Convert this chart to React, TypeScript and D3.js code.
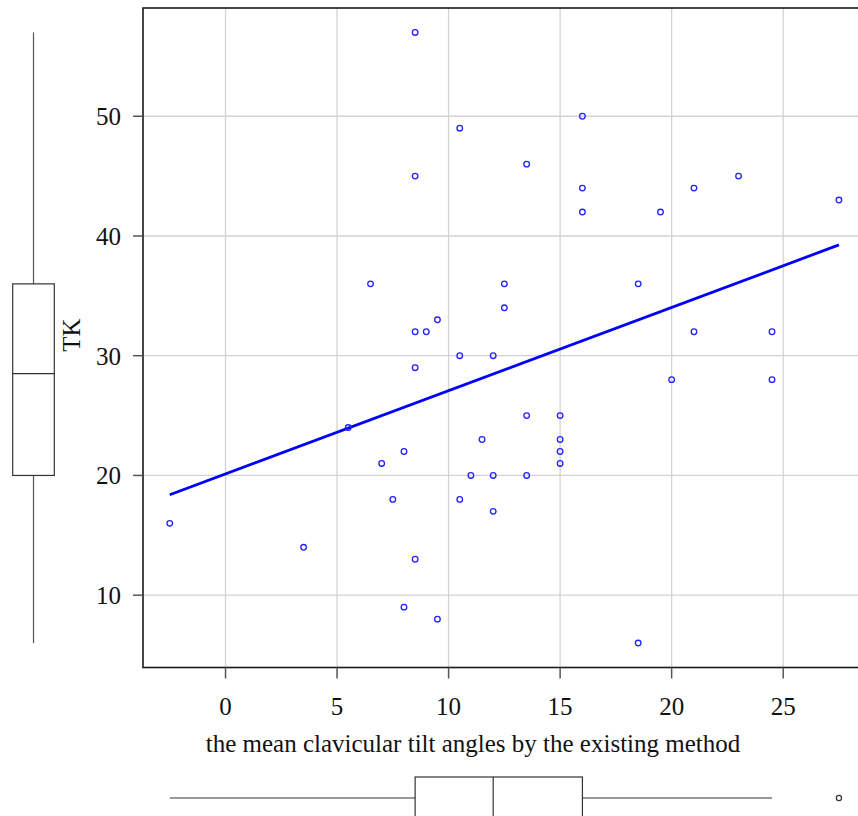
import React from "react";
import * as d3 from "d3";

const xValues = [8.5, 16, 10.5, 13.5, 8.5, 23, 16, 21, 27.5, 16, 19.5, 6.5, 12.5, 18.5, 12.5, 9.5, 8.5, 9, 21, 24.5, 10.5, 12, 8.5, 20, 24.5, 5.5, 13.5, 15, 11.5, 15, 15, 8, 15, 7, 11, 12, 13.5, 7.5, 10.5, 12, -2.5, 3.5, 8.5, 8, 9.5, 18.5];
const yValues = [57, 50, 49, 46, 45, 45, 44, 44, 43, 42, 42, 36, 36, 36, 34, 33, 32, 32, 32, 32, 30, 30, 29, 28, 28, 24, 25, 25, 23, 23, 22, 22, 21, 21, 20, 20, 20, 18, 18, 17, 16, 14, 13, 9, 8, 6];
const xTicks = [0, 5, 10, 15, 20, 25];
const yTicks = [10, 20, 30, 40, 50];
const xLabel = "the mean clavicular tilt angles by the existing method";
const yLabel = "TK";

const W = 858;
const H = 816;
const FONT = "'Liberation Serif', 'Times New Roman', serif";

function fivenum(vals: number[]) {
  const s = [...vals].sort((a, b) => a - b);
  const n = s.length;
  const n4 = Math.floor((n + 3) / 2) / 2;
  const idx = [1, n4, (n + 1) / 2, n + 1 - n4, n];
  return idx.map((d) => 0.5 * (s[Math.floor(d) - 1] + s[Math.ceil(d) - 1]));
}

function boxStats(vals: number[]) {
  const [, q1, med, q3] = fivenum(vals);
  const iqr = q3 - q1;
  const lo = q1 - 1.5 * iqr;
  const hi = q3 + 1.5 * iqr;
  const inside = vals.filter((v) => v >= lo && v <= hi);
  return {
    q1,
    med,
    q3,
    wlo: d3.min(inside) as number,
    whi: d3.max(inside) as number,
    out: vals.filter((v) => v < lo || v > hi),
  };
}

export default function App() {
  const [xmin, xmax] = d3.extent(xValues) as [number, number];
  const [ymin, ymax] = d3.extent(yValues) as [number, number];
  const xr = xmax - xmin;
  const yr = ymax - ymin;
  const left = 143;
  const right = 865.7;
  const top = 8;
  const bottom = 667.5;
  const x = d3.scaleLinear().domain([xmin - 0.04 * xr, xmax + 0.04 * xr]).range([left, right]);
  const y = d3.scaleLinear().domain([ymin - 0.04 * yr, ymax + 0.04 * yr]).range([bottom, top]);

  // regression
  const mx = d3.mean(xValues) as number;
  const my = d3.mean(yValues) as number;
  let sxy = 0;
  let sxx = 0;
  xValues.forEach((xv, i) => {
    sxy += (xv - mx) * (yValues[i] - my);
    sxx += (xv - mx) * (xv - mx);
  });
  const slope = sxy / sxx;
  const intercept = my - slope * mx;
  const line = d3.line<number>().x((d) => x(d)).y((d) => y(intercept + slope * d));

  const bx = boxStats(xValues);
  const by = boxStats(yValues);

  // left boxplot geometry
  const lbL = 12.7;
  const lbR = 54.3;
  const lbC = (lbL + lbR) / 2;
  // bottom boxplot geometry
  const bbT = 777;
  const bbB = 819;
  const bbC = (bbT + bbB) / 2;

  const boxStroke = "#333";
  const FS = 25;

  return (
    <svg
      width={W}
      height={H}
      style={{ position: "absolute", left: 0, top: 0, background: "#fff" }}
      fontFamily={FONT}
    >
      <rect x={0} y={0} width={W} height={H} fill="#fff" />
      {/* grid */}
      {xTicks.map((t) => (
        <line key={"gx" + t} x1={x(t)} x2={x(t)} y1={top} y2={bottom} stroke="#d3d3d3" strokeWidth={1.3} />
      ))}
      {yTicks.map((t) => (
        <line key={"gy" + t} x1={left} x2={right} y1={y(t)} y2={y(t)} stroke="#d3d3d3" strokeWidth={1.3} />
      ))}
      {/* frame */}
      <rect x={left} y={top} width={right - left} height={bottom - top} fill="none" stroke="#1a1a1a" strokeWidth={1.6} />
      {/* ticks */}
      {xTicks.map((t) => (
        <g key={"tx" + t}>
          <line x1={x(t)} x2={x(t)} y1={bottom} y2={bottom + 11} stroke="#555" strokeWidth={1.5} />
          <text x={x(t)} y={714.5} textAnchor="middle" fontSize={FS} fill="#111">
            {t}
          </text>
        </g>
      ))}
      {yTicks.map((t) => (
        <g key={"ty" + t}>
          <line x1={left - 10} x2={left} y1={y(t)} y2={y(t)} stroke="#555" strokeWidth={1.5} />
          <text x={121} y={y(t)} dy="0.36em" textAnchor="end" fontSize={FS} fill="#111">
            {t}
          </text>
        </g>
      ))}
      {/* axis labels */}
      <text x={473} y={752} textAnchor="middle" fontSize={FS} fill="#111">
        {xLabel}
      </text>
      <text
        transform={`translate(${80},${335}) rotate(-90)`}
        textAnchor="middle"
        fontSize={FS}
        fill="#111"
      >
        {yLabel}
      </text>
      {/* regression line */}
      <path d={line([xmin, xmax]) || ""} fill="none" stroke="#0000ff" strokeWidth={2.8} />
      {/* points */}
      {xValues.map((xv, i) => (
        <circle key={"p" + i} cx={x(xv)} cy={y(yValues[i])} r={2.8} fill="none" stroke="#2222ff" strokeWidth={1.3} />
      ))}
      {/* left boxplot (y) */}
      <g stroke={boxStroke} fill="none" strokeWidth={1.2}>
        <line x1={lbC} x2={lbC} y1={y(by.whi)} y2={y(by.q3)} stroke="#555" />
        <line x1={lbC} x2={lbC} y1={y(by.q1)} y2={y(by.wlo)} stroke="#555" />
        <rect x={lbL} y={y(by.q3)} width={lbR - lbL} height={y(by.q1) - y(by.q3)} fill="#fff" />
        <line x1={lbL} x2={lbR} y1={y(by.med)} y2={y(by.med)} />
        {by.out.map((o, i) => (
          <circle key={"oy" + i} cx={lbC} cy={y(o)} r={2.6} />
        ))}
      </g>
      {/* bottom boxplot (x) */}
      <g stroke={boxStroke} fill="none" strokeWidth={1.2}>
        <line x1={x(bx.wlo)} x2={x(bx.q1)} y1={bbC} y2={bbC} />
        <line x1={x(bx.q3)} x2={x(bx.whi)} y1={bbC} y2={bbC} />
        <rect x={x(bx.q1)} y={bbT} width={x(bx.q3) - x(bx.q1)} height={bbB - bbT} fill="#fff" />
        <line x1={x(bx.med)} x2={x(bx.med)} y1={bbT} y2={bbB} />
        {bx.out.map((o, i) => (
          <circle key={"ox" + i} cx={x(o)} cy={bbC} r={2.6} />
        ))}
      </g>
    </svg>
  );
}
